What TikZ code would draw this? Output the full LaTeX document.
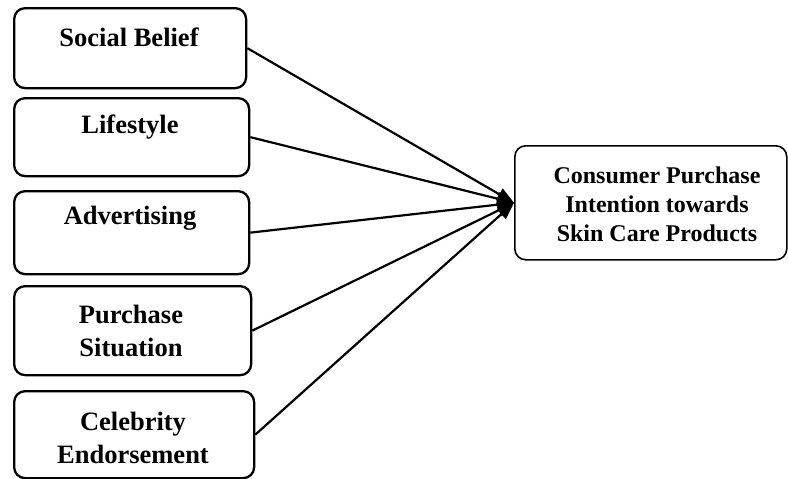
\documentclass[tikz,border=0pt]{standalone}
\usepackage{fontspec}
\setmainfont{Liberation Serif}
\usetikzlibrary{arrows.meta}
\begin{document}
\begin{tikzpicture}[x=1pt,y=-1pt,
  box/.style={draw=black, line width=2.3pt, rounded corners=11pt, inner sep=0pt, anchor=north west},
  ltxt/.style={font=\fontsize{26.5}{33}\selectfont\bfseries, align=center, inner sep=0pt},
  rtxt/.style={font=\fontsize{24}{29}\selectfont\bfseries, align=center, inner sep=0pt},
  conn/.style={line width=2.2pt, -{Triangle[length=17pt,width=13pt]}}]
\useasboundingbox (0,0) rectangle (788,479);
\node[box, minimum width=232pt, minimum height=80pt] (b1) at (13,7) {};
\node[box, minimum width=235pt, minimum height=78pt] (b2) at (13,97) {};
\node[box, minimum width=235pt, minimum height=83pt] (b3) at (13,190) {};
\node[box, minimum width=237pt, minimum height=89pt] (b4) at (13,285) {};
\node[box, minimum width=240pt, minimum height=87pt] (b5) at (13,390) {};
\node[box, line width=1.6pt, minimum width=272pt, minimum height=114pt] (rb) at (514,145) {};
\node[ltxt] (t1) at (129,37) {Social Belief};
\node[ltxt] (t2) at (130,127) {Lifestyle};
\node[ltxt] (t3) at (130,218) {Advertising};
\node[ltxt] (t4) at (131,331) {Purchase\\Situation};
\node[ltxt] (t5) at (133,438) {Celebrity\\Endorsement};
\node[rtxt] (t6) at (657,204) {Consumer Purchase\\Intention towards\\Skin Care Products};
\coordinate (tip) at (rb.west);
\draw[conn] (b1.east) -- (tip);
\draw[conn] (b2.east) -- (tip);
\draw[conn] (b3.east) -- (tip);
\draw[conn] (b4.east) -- (tip);
\draw[conn] (b5.east) -- (tip);
\end{tikzpicture}
\end{document}
